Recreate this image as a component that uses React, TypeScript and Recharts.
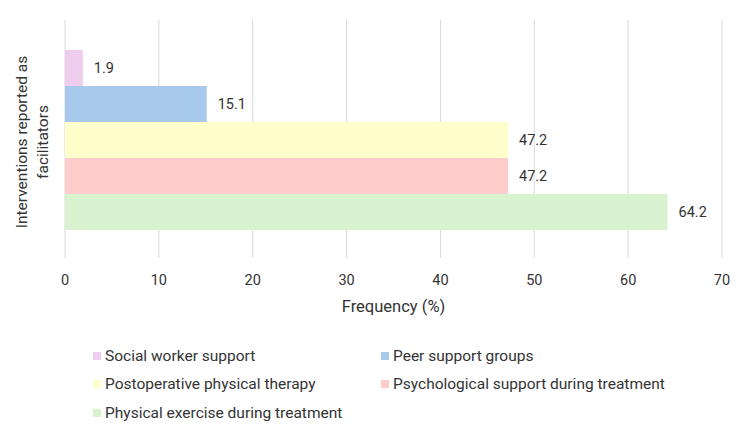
import { BarChart, Bar, XAxis, YAxis, CartesianGrid, LabelList } from 'recharts';

const CATEGORIES = ['Interventions'];
const SERIES = [
  'Social worker support',
  'Peer support groups',
  'Postoperative physical therapy',
  'Psychological support during treatment',
  'Physical exercise during treatment',
];
const VALUES = [1.9, 15.1, 47.2, 47.2, 64.2];
const X_TICKS = [0, 10, 20, 30, 40, 50, 60, 70];

const COLORS = ['#f0ccee', '#a6c9ec', '#ffffcc', '#ffcccc', '#d9f2d0'];
const FONT = 'Roboto, "Open Sans", sans-serif';

const data = CATEGORIES.map((name) => {
  const row: Record<string, string | number> = { name };
  SERIES.forEach((s, i) => {
    row[s] = VALUES[i];
  });
  return row;
});

// two-line rotated axis title
const YTitle = (props: any) => {
  const { viewBox } = props;
  const cy = viewBox.y + viewBox.height / 2 + 3;
  return (
    <text
      transform={`rotate(-90, 0, ${cy})`}
      x={0}
      y={cy}
      textAnchor="middle"
      fill="#333"
      fontSize={15.5}
      fontFamily={FONT}
    >
      <tspan x={0} dy={27}>Interventions reported as</tspan>
      <tspan x={0} dy={21}>facilitators</tspan>
    </text>
  );
};

const LegendBox = () => (
  <div
    style={{
      position: 'absolute',
      left: 93,
      top: 346,
      display: 'grid',
      gridTemplateColumns: '288px 330px',
      rowGap: 9.5,
      fontFamily: FONT,
      fontSize: 15.5,
      color: '#333',
    }}
  >
    {SERIES.map((s, i) => (
      <div key={s} style={{ display: 'flex', alignItems: 'center', height: 19 }}>
        <div style={{ width: 8, height: 8, background: COLORS[i], marginRight: 4 }} />
        <span>{s}</span>
      </div>
    ))}
  </div>
);

export default function App() {
  return (
    <div style={{ margin: -8, position: 'relative', width: 750, height: 438, background: '#fff' }}>
      <BarChart
        width={750}
        height={438}
        data={data}
        layout="vertical"
        margin={{ top: 20, right: 28, left: 8, bottom: 120 }}
        barGap={0}
        barCategoryGap="12.6%"
      >
        <CartesianGrid horizontal={false} stroke="#d9d9d9" />
        <XAxis
          type="number"
          domain={[0, 70]}
          ticks={X_TICKS}
          axisLine={false}
          tickLine={false}
          tickMargin={11}
          height={60}
          tick={{ fontSize: 14.5, fill: '#333', fontFamily: FONT }}
          label={{
            value: 'Frequency (%)',
            position: 'insideBottom',
            offset: 6,
            fontSize: 16.5,
            fill: '#333',
            fontFamily: FONT,
          }}
        />
        <YAxis
          type="category"
          dataKey="name"
          width={57}
          axisLine={false}
          tickLine={false}
          tick={false}
          label={<YTitle />}
        />
        {SERIES.map((s, i) => (
          <Bar key={s} dataKey={s} fill={COLORS[i]} isAnimationActive={false}>
            <LabelList
              dataKey={s}
              position="right"
              offset={11}
              fill="#333"
              fontSize={14.5}
              fontFamily={FONT}
            />
          </Bar>
        ))}
      </BarChart>
      <LegendBox />
    </div>
  );
}
